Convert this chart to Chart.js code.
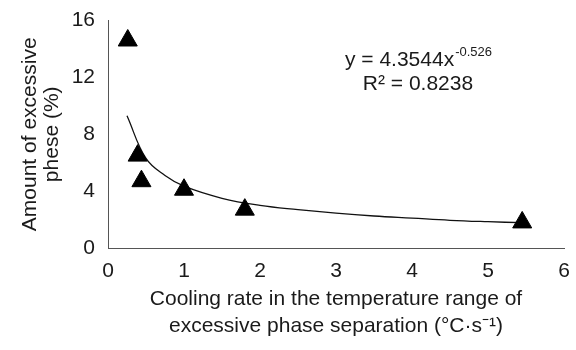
<!DOCTYPE html>
<html lang="en">
<head>
<meta charset="UTF-8">
<title>Cooling rate vs excessive phase</title>
<script src="https://cdn.jsdelivr.net/npm/chart.js"></script>
<style>
  html, body { margin: 0; padding: 0; background: #fff; }
  .wrap { width: 576px; height: 350px; }
</style>
</head>
<body>
<div class="wrap"><canvas id="c"></canvas></div>
<script>
// measured points (cooling rate, amount of excessive phase)
const rateX = [0.26, 0.39, 0.44, 1.0, 1.8, 5.45];
const phaseY = [14.6, 6.5, 4.7, 4.1, 2.7, 1.8];
// trend line
const trendX = [0.25, 0.5, 0.75, 1, 1.5, 2, 2.5, 3, 3.5, 4, 4.5, 5, 5.45];
const trendY = [9.3, 6.3, 5.1, 4.35, 3.5, 3.0, 2.7, 2.45, 2.25, 2.1, 1.95, 1.85, 1.78];
const yTicks = [0, 4, 8, 12, 16];
const xTicks = [0, 1, 2, 3, 4, 5, 6];

const FONT = 'Liberation Sans, Arial, sans-serif';
const INK = '#1a1a1a';

const eqLabel = {
  id: 'eqLabel',
  afterDraw(chart) {
    const ctx = chart.ctx;
    ctx.save();
    ctx.fillStyle = INK;
    ctx.textBaseline = 'alphabetic';
    ctx.font = '21px ' + FONT;
    const main = 'y = 4.3544x';
    const sup = '-0.526';
    const wMain = ctx.measureText(main).width;
    ctx.font = '13px ' + FONT;
    const wSup = ctx.measureText(sup).width;
    const cx = 418;
    let x0 = cx - (wMain + wSup) / 2;
    ctx.font = '21px ' + FONT;
    ctx.textAlign = 'left';
    ctx.fillText(main, x0, 66);
    ctx.font = '13px ' + FONT;
    ctx.fillText(sup, x0 + wMain + 1, 56);
    ctx.font = '21px ' + FONT;
    ctx.textAlign = 'center';
    ctx.fillText('R\u00b2 = 0.8238', cx, 90);
    ctx.restore();
  }
};

new Chart(document.getElementById('c'), {
  type: 'scatter',
  data: {
    datasets: [
      {
        label: 'trend',
        type: 'line',
        data: trendX.map((x, i) => ({ x: x, y: trendY[i] })),
        borderColor: '#111',
        borderWidth: 1.3,
        pointRadius: 0,
        tension: 0.4,
        fill: false,
        order: 2
      },
      {
        label: 'data',
        data: rateX.map((x, i) => ({ x: x, y: phaseY[i] })),
        pointStyle: 'triangle',
        pointRadius: 11,
        pointBackgroundColor: '#000',
        pointBorderColor: '#000',
        pointBorderWidth: 1,
        order: 1
      }
    ]
  },
  options: {
    responsive: true,
    maintainAspectRatio: false,
    animation: false,
    layout: { padding: { top: 15, right: 12, left: 4, bottom: 10 } },
    plugins: { legend: { display: false }, tooltip: { enabled: false } },
    scales: {
      x: {
        type: 'linear',
        min: 0, max: 6,
        afterBuildTicks: s => { s.ticks = xTicks.map(v => ({ value: v })); },
        afterFit: s => { s.height = 92; },
        grid: { display: false, drawTicks: true, tickLength: 5, tickColor: '#555' },
        border: { color: '#555', width: 1 },
        ticks: { color: INK, font: { family: FONT, size: 21 }, padding: 6 },
        title: {
          display: true,
          text: ['Cooling rate in the temperature range of', 'excessive phase separation (\u00b0C\u00b7s\u207b\u00b9)'],
          color: INK,
          font: { family: FONT, size: 21, lineHeight: 1.3 },
          padding: { top: 4, bottom: 0 }
        }
      },
      y: {
        min: 0, max: 16,
        afterBuildTicks: s => { s.ticks = yTicks.map(v => ({ value: v })); },
        afterFit: s => { s.width = 104; },
        grid: { display: false, drawTicks: true, tickLength: 5, tickColor: '#555' },
        border: { color: '#555', width: 1 },
        ticks: { color: INK, font: { family: FONT, size: 21 }, padding: 8 },
        title: {
          display: true,
          text: ['Amount of excessive', 'phese (%)'],
          color: INK,
          font: { family: FONT, size: 21, lineHeight: 1.05 },
          padding: { top: 15, bottom: 0 }
        }
      }
    }
  },
  plugins: [eqLabel]
});
</script>
</body>
</html>
